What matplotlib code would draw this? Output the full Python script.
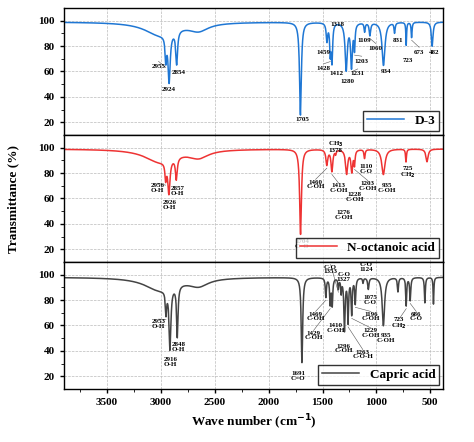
import matplotlib.pyplot as plt
import numpy as np

plt.rcParams["font.family"] = ["Liberation Serif", "DejaVu Serif"]
plt.rcParams["font.weight"] = "bold"

# band tables: (wavenumber, transmittance at minimum, half width)
d3_base = 99
d3_peaks = [(3010, 89, 170), (2650, 93, 110), (2955, 80, 8), (2924, 61, 12),
            (2854, 73, 10), (1705, 26, 10), (1459, 85, 8), (1428, 76, 7),
            (1412, 70, 7), (1280, 62, 12), (1231, 65, 10), (1203, 80, 6),
            (1109, 92, 6), (1060, 89, 8), (934, 65, 16), (831, 91, 6),
            (723, 81, 4), (673, 87, 5), (482, 80, 9)]
oct_base = 99
oct_peaks = [(3010, 89, 170), (2650, 93, 110), (2956, 86, 8), (2926, 73, 12),
             (2857, 82, 10), (1704, 32, 10), (1460, 87, 10), (1413, 82, 10),
             (1378, 96, 5), (1276, 80, 12), (1228, 82, 10), (1203, 88, 6),
             (1110, 92, 6), (935, 79, 18), (725, 89, 5), (530, 89, 12)]
cap_base = 98
cap_peaks = [(3010, 88, 170), (2650, 92, 110), (2953, 80, 7), (2916, 50, 10),
             (2848, 58, 8), (1691, 31, 8), (1469, 83, 6), (1429, 78, 6),
             (1410, 77, 6), (1353, 90, 5), (1327, 87, 5), (1296, 57, 7),
             (1263, 64, 6), (1229, 70, 6), (1196, 78, 6), (1124, 94, 5),
             (1075, 89, 7), (935, 60, 13), (800, 87, 6), (723, 76, 5),
             (686, 80, 6), (550, 78, 5), (470, 77, 4)]

# annotation text and its place (wavenumber, transmittance)
d3_labels = [(2955, "2955", 3023, 64), (2854, "2854", 2836, 59), (2924, "2924", 2930, 46),
             (1705, "1705", 1687, 22), (1318, "1318", 1360, 97), (1459, "1459", 1490, 75),
             (1428, "1428", 1490, 62), (1412, "1412", 1370, 58), (1280, "1280", 1266, 52),
             (1231, "1231", 1173, 58), (1203, "1203", 1136, 68), (1109, "1109", 1117, 84),
             (1060, "1060", 1005, 78), (934, "934", 912, 60), (831, "831", 800, 84),
             (723, "723", 706, 69), (673, "673", 603, 75), (482, "482", 463, 75)]
oct_labels = [(2956, "2956\nO-H", 3032, 68), (2857, "2857\nO-H", 2846, 66),
              (2926, "2926\nO-H", 2921, 55), (1704, "1704\nC=O", 1687, 24),
              (1378, "CH$_3$\n1378", 1379, 101), (1460, "1460\nC-OH", 1565, 71),
              (1413, "1413\nC-OH", 1350, 68), (1276, "1276\nC-OH", 1304, 47),
              (1228, "1228\nC-OH", 1200, 61), (1203, "1203\nC-OH", 1079, 70),
              (1110, "1110\nC-O", 1098, 83), (935, "935\nC-OH", 902, 68),
              (725, "725\nCH$_2$", 706, 80)]
cap_labels = [(2953, "2953\nO-H", 3023, 61), (2848, "2848\nO-H", 2836, 43),
              (2916, "2916\nO-H", 2911, 31), (1691, "1691\nC=O", 1724, 20),
              (1353, "C-O\n1353", 1425, 104), (1327, "C-O\n1327", 1304, 98),
              (1124, "C-O\n1124", 1098, 106), (1469, "1469\nC-OH", 1565, 67),
              (1429, "1429\nC-OH", 1584, 52), (1410, "1410\nC-OH", 1379, 58),
              (1296, "1296\nC-OH", 1304, 42), (1263, "1263\nC-O-H", 1126, 37),
              (1229, "1229\nC-OH", 1051, 54), (1196, "1196\nC-OH", 1051, 67),
              (1075, "1075\nC-O", 1060, 80), (935, "935\nC-OH", 912, 50),
              (723, "723\nCH$_2$", 790, 61), (686, "686\nC-O", 630, 67)]

panels = [("D-3", "#1f77d4", d3_base, d3_peaks, d3_labels),
          ("N-octanoic acid", "#ee3333", oct_base, oct_peaks, oct_labels),
          ("Capric acid", "#444444", cap_base, cap_peaks, cap_labels)]

wn = np.linspace(380, 3950, 8000)


def spectrum(base, peaks):
    t = np.full_like(wn, float(base))
    for pos, depth, width in peaks:
        t -= (base - depth) / (1 + ((wn - pos) / width) ** 2)
    return t


fig, axes = plt.subplots(3, 1, figsize=(4.74, 4.42), sharex=True)
fig.subplots_adjust(left=0.135, right=0.935, top=0.982, bottom=0.12, hspace=0)

for ax, (name, color, base, peaks, labels) in zip(axes, panels):
    t = spectrum(base, peaks)
    ax.plot(wn, t, color=color, lw=1.1, label=name)
    ax.set_xlim(3900, 380)
    ax.set_ylim(10, 110)
    ax.set_yticks([20, 40, 60, 80, 100])
    ax.set_yticks([30, 50, 70, 90], minor=True)
    ax.grid(True, ls="--", lw=0.5, color="#bbbbbb")
    ax.tick_params(labelsize=8, direction="out", length=3, width=1)
    ax.tick_params(which="minor", direction="out", length=2)
    for s in ax.spines.values():
        s.set_linewidth(1.0)
    for pos, text, tx, ty in labels:
        py = t[np.argmin(abs(wn - pos))]
        if abs(tx - pos) > 50:
            ax.plot([pos, tx], [py - 2, ty + 4], color="#555555", lw=0.4)
        ax.text(tx, ty, text, fontsize=5, ha="center", va="center",
                linespacing=0.9, clip_on=False)
    leg = ax.legend(loc="lower right", fontsize=9.5, handlelength=2.8,
                    fancybox=False, edgecolor="black", borderaxespad=0.3,
                    borderpad=0.3)
    leg.get_frame().set_linewidth(1.0)
    for txt in leg.get_texts():
        txt.set_fontweight("bold")

axes[-1].set_xticks([3500, 3000, 2500, 2000, 1500, 1000, 500])
axes[-1].set_xticks(np.arange(3750, 380, -250), minor=True)
axes[-1].set_xlabel("Wave number (cm$^{-1}$)", fontsize=9.5, fontweight="bold")
fig.text(0.015, 0.55, "Transmittance (%)", rotation=90, va="center",
         fontsize=9.5, fontweight="bold")

fig.savefig("out.png", dpi=100)
